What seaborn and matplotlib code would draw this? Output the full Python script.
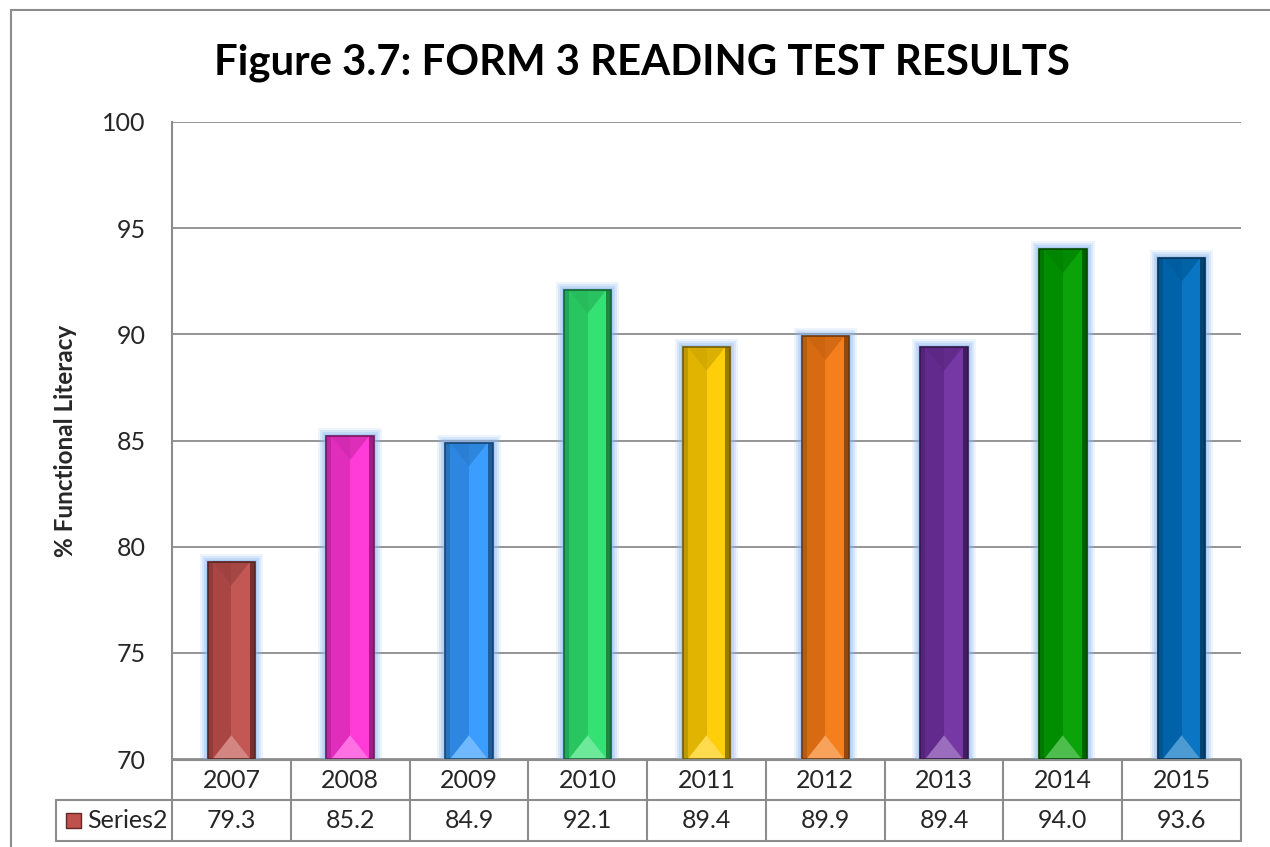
import matplotlib
matplotlib.use("Agg")
import matplotlib.pyplot as plt
import matplotlib.transforms as mtransforms
from matplotlib.patches import Rectangle, Polygon
import matplotlib.colors as mcolors
import seaborn as sns
import pandas as pd

# ---- data ----
years = ["2007", "2008", "2009", "2010", "2011", "2012", "2013", "2014", "2015"]
literacy = [79.3, 85.2, 84.9, 92.1, 89.4, 89.9, 89.4, 94.0, 93.6]
bar_colors = ["#C0504D", "#FF33D6", "#3399FF", "#2EE06E", "#FFCC00",
              "#F57A14", "#7030A0", "#00A000", "#0070C0"]
series_name = "Series2"
title = "Figure 3.7: FORM 3 READING TEST RESULTS"
y_label = "% Functional Literacy"
y_ticks = [70, 75, 80, 85, 90, 95, 100]

df = pd.DataFrame({"year": years, "value": literacy})

sns.set_theme(style="white")
plt.rcParams["font.family"] = ["Lato", "DejaVu Sans"]

W, H = 1270, 847
fig = plt.figure(figsize=(W / 100, H / 100), dpi=100)
fig.patch.set_facecolor("white")

def px(x, y):
    return x / W, 1 - y / H

# outer chart frame (extends past the right and bottom edges)
fig.add_artist(Rectangle(px(11, 900), (1400 - 11) / W, (900 - 10) / H,
                         transform=fig.transFigure, fill=False,
                         edgecolor="#8c8c8c", linewidth=1.5))

left, right, top, bottom = 172, 1241, 122, 759
ax = fig.add_axes([left / W, 1 - bottom / H, (right - left) / W, (bottom - top) / H])

sns.barplot(data=df, x="year", y="value", hue="year", palette=bar_colors,
            legend=False, width=0.40, ax=ax, saturation=1, zorder=3,
            edgecolor="none")

ax.set_ylim(70, 100)
ax.set_xlim(-0.5, len(years) - 0.5)
ax.set_yticks(y_ticks)
ax.set_yticklabels([str(t) for t in y_ticks], fontsize=18)
ax.tick_params(axis="y", length=0, pad=19)
ax.set_xticks([])
ax.set_xlabel("")
ax.set_ylabel(y_label, fontsize=17.5, fontweight="bold", labelpad=18)
ax.grid(axis="y", color="#8c8c8c", linewidth=1.3, zorder=0)
ax.set_axisbelow(True)
for s in ["top", "right", "bottom"]:
    ax.spines[s].set_visible(False)
ax.spines["left"].set_color("#8c8c8c")
ax.spines["left"].set_linewidth(1.5)

fig.text(0.5055, 1 - 63 / H, title, ha="center", va="center",
         fontsize=30.2, fontweight="bold", color="black")

# bevel and glow decoration on each bar
def dx_px(n):
    return n * (len(years)) / (right - left)
def dy_px(n):
    return n * 30 / (bottom - top)

def shade(c, f):
    r, g, b = mcolors.to_rgb(c)
    if f < 1:
        return (r * f, g * f, b * f)
    return (r + (1 - r) * (f - 1), g + (1 - g) * (f - 1), b + (1 - b) * (f - 1))

for p, c in zip(ax.patches, bar_colors):
    x0, w = p.get_x(), p.get_width()
    y0 = 70
    y1 = p.get_y() + p.get_height()
    h = y1 - y0
    # glow
    for k, a in [(8, 0.15), (6, 0.22), (4, 0.3), (2, 0.4)]:
        ax.add_patch(Rectangle((x0 - dx_px(k), y0), w + 2 * dx_px(k), h + dy_px(k),
                               facecolor="#8DB8F0", edgecolor="none", alpha=a,
                               zorder=2, clip_on=True))
    xm = x0 + w / 2
    # body halves
    ax.add_patch(Rectangle((x0, y0), w / 2, h, facecolor=shade(c, 0.88),
                           edgecolor="none", zorder=4))
    ax.add_patch(Rectangle((xm, y0), w / 2, h, facecolor=shade(c, 1.04),
                           edgecolor="none", zorder=4))
    # side bevels
    b = dx_px(5)
    ax.add_patch(Rectangle((x0, y0), b, h, facecolor=shade(c, 0.75),
                           edgecolor="none", zorder=5))
    ax.add_patch(Rectangle((x0 + w - b, y0), b, h, facecolor=shade(c, 0.6),
                           edgecolor="none", zorder=5))
    # top and bottom triangular bevels
    tri_h = dy_px(w / 2 / dx_px(1))
    ax.add_patch(Polygon([(x0 + b, y1), (x0 + w - b, y1), (xm, y1 - tri_h)],
                         closed=True, facecolor=shade(c, 0.82), edgecolor="none",
                         alpha=0.75, zorder=5))
    ax.add_patch(Polygon([(x0 + b, y0), (x0 + w - b, y0), (xm, y0 + tri_h)],
                         closed=True, facecolor=shade(c, 1.3), edgecolor="none",
                         zorder=5))
    # outline
    ax.add_patch(Rectangle((x0, y0), w, h, facecolor="none",
                           edgecolor=shade(c, 0.45), linewidth=1.2, zorder=6))

# data table below the plot
tr = mtransforms.blended_transform_factory(ax.transData, fig.transFigure)
row_top, row_mid, row_bot = 1 - 760 / H, 1 - 800 / H, 1 - 841 / H
n = len(years)
grid_c = "#8c8c8c"
lw = 1.5
fig.add_artist(plt.Line2D([-0.5, n - 0.5], [row_top, row_top], transform=tr,
                          color=grid_c, lw=lw))
fig.add_artist(plt.Line2D([56 / W, right / W], [row_mid, row_mid],
                          transform=fig.transFigure, color=grid_c, lw=lw))
fig.add_artist(plt.Line2D([56 / W, right / W], [row_bot, row_bot],
                          transform=fig.transFigure, color=grid_c, lw=lw))
fig.add_artist(plt.Line2D([56 / W, 56 / W], [row_mid, row_bot],
                          transform=fig.transFigure, color=grid_c, lw=lw))
for i in range(n + 1):
    xb = i - 0.5
    fig.add_artist(plt.Line2D([xb, xb], [row_top, row_bot], transform=tr,
                              color=grid_c, lw=lw))
for i, (yr, v) in enumerate(zip(years, literacy)):
    fig.text(i, (row_top + row_mid) / 2, yr, transform=tr, ha="center",
             va="center", fontsize=18)
    fig.text(i, (row_mid + row_bot) / 2, f"{v:.1f}", transform=tr, ha="center",
             va="center", fontsize=18)

# legend key in the table header
key_c = bar_colors[0]
fig.add_artist(Rectangle(px(66, 828), 15 / W, 15 / H, transform=fig.transFigure,
                         facecolor=key_c, edgecolor=shade(key_c, 0.5), lw=1))
fig.text(87 / W, (row_mid + row_bot) / 2, series_name, ha="left", va="center",
         fontsize=18)

fig.savefig("out.png", dpi=100, facecolor="white")
